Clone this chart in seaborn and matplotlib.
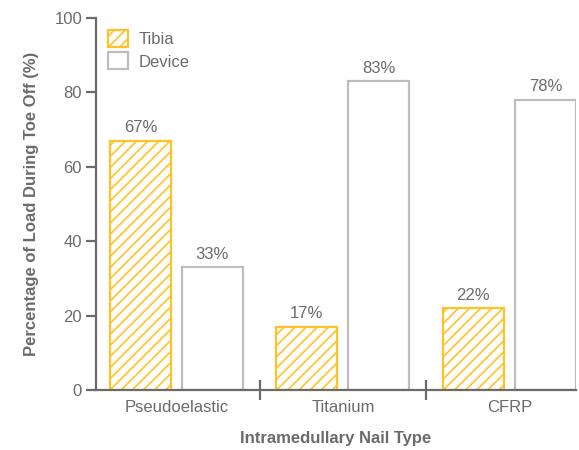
import matplotlib
matplotlib.use("Agg")
import matplotlib.pyplot as plt
from matplotlib.patches import Patch
import seaborn as sns
import pandas as pd

# Share of load carried during toe-off, per nail type
nail_types = ["Pseudoelastic", "Titanium", "CFRP"]
tibia_load = [67, 17, 22]
device_load = [33, 83, 78]
series_names = ["Tibia", "Device"]

df = pd.DataFrame({
    "Nail": nail_types * 2,
    "Part": [series_names[0]] * 3 + [series_names[1]] * 3,
    "Load": tibia_load + device_load,
})

sns.set_theme(style="white")
plt.rcParams["font.family"] = ["Liberation Sans", "DejaVu Sans"]
plt.rcParams["hatch.linewidth"] = 1.2

GRAY = "#6b6b6b"
YELLOW = "#FFC328"
LIGHT = "#BDBDBD"
HATCH = "///"

fig = plt.figure(figsize=(5.79, 4.5), dpi=100)
ax = fig.add_axes([0.1658, 0.1333, 0.8290, 0.8267])

sns.barplot(data=df, x="Nail", y="Load", hue="Part", order=nail_types,
            hue_order=series_names, width=0.866, gap=0.155, ax=ax,
            legend=False)

styles = [
    dict(facecolor="white", edgecolor=YELLOW, hatch=HATCH),
    dict(facecolor="white", edgecolor=LIGHT, hatch=None),
]
for cont, st in zip(ax.containers, styles):
    for bar in cont:
        bar.set_facecolor(st["facecolor"])
        bar.set_edgecolor(st["edgecolor"])
        bar.set_linewidth(1.6)
        if st["hatch"]:
            bar.set_hatch(st["hatch"])
    vals = [int(round(b.get_height())) for b in cont]
    ax.bar_label(cont, labels=[f"{v}%" for v in vals], padding=4,
                 color=GRAY, fontsize=12)

ax.set_xlim(-0.483, 2.40)
ax.set_ylim(0, 100)
ax.set_yticks([0, 20, 40, 60, 80, 100])

for side in ["top", "right"]:
    ax.spines[side].set_visible(False)
for side in ["left", "bottom"]:
    ax.spines[side].set_color(GRAY)
    ax.spines[side].set_linewidth(1.6)

ax.tick_params(axis="y", which="major", direction="out", length=7,
               width=1.6, color=GRAY, labelcolor=GRAY, labelsize=12, pad=3,
               left=True)
ax.tick_params(axis="x", which="major", length=0, labelcolor=GRAY,
               labelsize=12, pad=7)
ax.set_xticks([0.5, 1.5], minor=True)
ax.tick_params(axis="x", which="minor", direction="inout", length=14,
               width=1.6, color=GRAY, bottom=True)

ax.set_xlabel("Intramedullary Nail Type", color=GRAY, fontsize=12,
              fontweight="bold", labelpad=12)
ax.set_ylabel("Percentage of Load During Toe Off (%)", color=GRAY,
              fontsize=12, fontweight="bold", labelpad=11)

handles = [
    Patch(facecolor="white", edgecolor=YELLOW, hatch=HATCH, linewidth=1.6,
          label=series_names[0]),
    Patch(facecolor="white", edgecolor=LIGHT, linewidth=1.6,
          label=series_names[1]),
]
leg = ax.legend(handles=handles, loc="upper left", bbox_to_anchor=(0.012, 0.985),
                frameon=False, fontsize=12, handlelength=1.2, handleheight=1.2,
                handletextpad=0.6, labelspacing=0.3, borderaxespad=0)
for t in leg.get_texts():
    t.set_color(GRAY)

fig.savefig("out.png", dpi=100)
